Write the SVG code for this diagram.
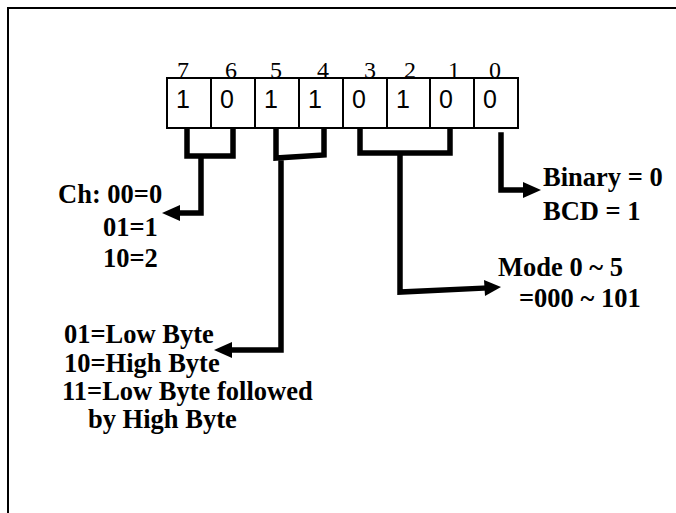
<svg xmlns="http://www.w3.org/2000/svg" width="676" height="513" viewBox="0 0 676 513">
<defs>
<style>
.bn{font-family:"Liberation Serif","Times New Roman",serif;font-size:24px;text-anchor:middle;fill:#000}
.cv{font-family:"Liberation Sans",Arial,sans-serif;font-size:25px;text-anchor:middle;fill:#000}
.lb{font-family:"Liberation Serif","Times New Roman",serif;font-size:26.5px;font-weight:bold;fill:#000}
.ln{fill:none;stroke:#000;stroke-width:5.5;stroke-linejoin:miter;stroke-linecap:square}
.hd{fill:#000;stroke:none}
.cell{fill:#fff;stroke:#000;stroke-width:2}
</style>
</defs>
<rect width="676" height="513" fill="#fff"/>
<path d="M8,513 V8 H676" fill="none" stroke="#000" stroke-width="2"/>
<g id="register">
<rect class="cell" x="167" y="78" width="351" height="50"/>
<path d="M211,78V128 M255,78V128 M299,78V128 M343,78V128 M387,78V128 M430,78V128 M474,78V128" stroke="#000" stroke-width="2"/>
<g>
<text class="bn" x="183" y="78">7</text>
<text class="bn" x="231" y="78">6</text>
<text class="bn" x="276" y="78">5</text>
<text class="bn" x="323" y="78">4</text>
<text class="bn" x="370" y="78">3</text>
<text class="bn" x="410" y="78">2</text>
<text class="bn" x="454" y="78">1</text>
<text class="bn" x="495" y="78">0</text>
</g>
<g>
<text class="cv" x="183" y="108">1</text>
<text class="cv" x="227" y="108">0</text>
<text class="cv" x="271" y="108">1</text>
<text class="cv" x="315" y="108">1</text>
<text class="cv" x="359" y="108">0</text>
<text class="cv" x="403" y="108">1</text>
<text class="cv" x="446" y="108">0</text>
<text class="cv" x="490" y="108">0</text>
</g>
</g>
<g id="connectors">
<path class="ln" d="M187,130 V156 H233 V130"/>
<path class="ln" d="M201,158 V213 H178"/>
<polygon class="hd" points="162,213 180,205 180,221"/>
<path class="ln" d="M276,130 V158 L324,155 V130"/>
<path class="ln" d="M281,163 V350 H230"/>
<polygon class="hd" points="214,350 232,342 232,358"/>
<path class="ln" d="M360,130 V153 H450 V130"/>
<path class="ln" d="M400,155 V292 L486,288"/>
<polygon class="hd" points="501,287 484,280 485,296"/>
<path class="ln" d="M501,135 V190 H524"/>
<polygon class="hd" points="541,190 523,182 523,198"/>
</g>
<g id="ch">
<text class="lb" x="58" y="203">Ch: 00=0</text>
<text class="lb" x="103" y="236">01=1</text>
<text class="lb" x="103" y="267">10=2</text>
</g>
<g id="rw">
<text class="lb" x="64" y="343">01=Low Byte</text>
<text class="lb" x="64" y="372">10=High Byte</text>
<text class="lb" x="62" y="400">11=Low Byte followed</text>
<text class="lb" x="88" y="428">by High Byte</text>
</g>
<g id="mode">
<text class="lb" x="498" y="276">Mode 0 ~ 5</text>
<text class="lb" x="519" y="307">=000 ~ 101</text>
</g>
<g id="bcd">
<text class="lb" x="543" y="186">Binary = 0</text>
<text class="lb" x="543" y="220">BCD = 1</text>
</g>
</svg>
